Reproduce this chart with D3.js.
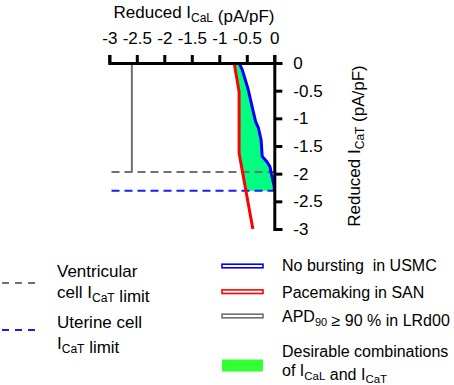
<!DOCTYPE html>
<html>
<head>
<meta charset="utf-8">
<script src="https://cdn.jsdelivr.net/npm/d3@7"></script>
<style>
  body { margin: 0; background: #fff; }
  svg { font-family: Arial, "Liberation Sans", sans-serif; }
  .axis path, .axis line { stroke: #000; stroke-width: 3; }
  .axis text { font-size: 17px; fill: #000; font-family: Arial, "Liberation Sans", sans-serif; }
</style>
</head>
<body>
<div id="chart"></div>
<script>
// axis ticks
const icalTicks = [-3, -2.5, -2, -1.5, -1, -0.5, 0];
const icatTicks = [0, -0.5, -1, -1.5, -2, -2.5, -3];

// No bursting in USMC (blue)
const blueCaL = [-0.64, -0.58, -0.48, -0.41, -0.34, -0.29, -0.24, -0.22, -0.14, -0.08, -0.05, 0, 0];
const blueCaT = [0, -0.13, -0.46, -0.76, -1.06, -1.17, -1.39, -1.69, -1.78, -1.87, -2.02, -2.24, -2.31];

// Pacemaking in SAN (red)
const redCaL = [-0.73, -0.64, -0.64, -0.39];
const redCaT = [0, -0.52, -1.63, -3];

// APD90 >= 90 % in LRd00 (gray)
const grayCaL = [-2.59, -2.59];
const grayCaT = [0, -1.97];

// ICaT limits
const ventricularLimit = -1.97;
const uterineLimit = -2.31;
const limitStart = -2.96;

const width = 454, height = 385;
const svg = d3.select("#chart").append("svg")
    .attr("width", width)
    .attr("height", height);

const x = d3.scaleLinear().domain([-3, 0]).range([109.3, 274.3]);
const y = d3.scaleLinear().domain([0, -3]).range([63, 229]);

const blue = blueCaL.map((v, i) => [v, blueCaT[i]]);
const red = redCaL.map((v, i) => [v, redCaT[i]]);
const gray = grayCaL.map((v, i) => [v, grayCaT[i]]);

const line = d3.line().x(d => x(d[0])).y(d => y(d[1]));

// green region between red and blue, down to the uterine limit
const t = (uterineLimit - redCaT[2]) / (redCaT[3] - redCaT[2]);
const redAtLimit = [redCaL[2] + t * (redCaL[3] - redCaL[2]), uterineLimit];
const region = blue.concat([redAtLimit], red.slice(0, 3).reverse());
svg.append("path")
    .attr("d", line(region) + "Z")
    .attr("fill", "#00ff80")
    .attr("stroke", "none");

// limit lines
svg.append("path")
    .attr("d", line([[limitStart, ventricularLimit], [0, ventricularLimit]]))
    .attr("stroke", "#707070").attr("stroke-width", 2)
    .attr("stroke-dasharray", "8,5").attr("fill", "none");
svg.append("path")
    .attr("d", line([[limitStart, uterineLimit], [0, uterineLimit]]))
    .attr("stroke", "#1a1aff").attr("stroke-width", 2)
    .attr("stroke-dasharray", "8,5").attr("fill", "none");

svg.append("path").datum(gray).attr("d", line)
    .attr("stroke", "#707070").attr("stroke-width", 2).attr("fill", "none");
svg.append("path").datum(red).attr("d", line)
    .attr("stroke", "#ff0000").attr("stroke-width", 3).attr("fill", "none");
svg.append("path").datum(blue).attr("d", line)
    .attr("stroke", "#0000ff").attr("stroke-width", 3).attr("fill", "none");

// axes
svg.append("g")
    .attr("class", "axis")
    .attr("transform", `translate(0,${y(0)})`)
    .call(d3.axisTop(x).tickValues(icalTicks).tickSize(8).tickPadding(11)
        .tickFormat(d => String(d)));

svg.append("g")
    .attr("class", "axis")
    .attr("transform", `translate(${x(0)},0)`)
    .call(d3.axisRight(y).tickValues(icatTicks).tickSize(8).tickPadding(11)
        .tickFormat(d => String(d)));

// text with subscript helper
function sub(text, parts, size, drop) {
    size = size || 12;
    drop = drop || 4;
    parts.forEach(p => {
        if (p.sub) {
            text.append("tspan").attr("font-size", size + "px").attr("dy", drop).text(p.sub);
            text.append("tspan").attr("dy", -drop).text("");
        } else {
            text.append("tspan").text(p.t);
        }
    });
    return text;
}

sub(svg.append("text").attr("x", 194).attr("y", 18)
    .attr("text-anchor", "middle").attr("font-size", "17px"),
    [{t: "Reduced I"}, {sub: "CaL"}, {t: " (pA/pF)"}]);

sub(svg.append("text")
    .attr("transform", "translate(360,146) rotate(-90)")
    .attr("text-anchor", "middle").attr("font-size", "17px"),
    [{t: "Reduced I"}, {sub: "CaT"}, {t: " (pA/pF)"}]);

// legend, left
const leftLegend = [
    {color: "#707070", y: 283, lines: [[{t: "Ventricular"}], [{t: "cell I"}, {sub: "CaT"}, {t: " limit"}]], base: 277},
    {color: "#1a1aff", y: 330, lines: [[{t: "Uterine cell"}], [{t: "I"}, {sub: "CaT"}, {t: " limit"}]], base: 328}
];
leftLegend.forEach(l => {
    svg.append("line").attr("x1", 2).attr("x2", 36).attr("y1", l.y).attr("y2", l.y)
        .attr("stroke", l.color).attr("stroke-width", 2).attr("stroke-dasharray", "7,6");
    l.lines.forEach((parts, i) => {
        sub(svg.append("text").attr("x", 57).attr("y", l.base + i * 21).attr("font-size", "17px"), parts);
    });
});

// legend, right
const rightLegend = [
    {color: "#0000ff", y: 266, parts: [{t: "No bursting\u00a0 in USMC"}], base: 271},
    {color: "#ff0000", y: 291.7, parts: [{t: "Pacemaking in SAN"}], base: 298},
    {color: "#707070", y: 316, parts: [{t: "APD"}, {sub: "90"}, {t: " \u2265 90 % in LRd00"}], base: 322}
];
rightLegend.forEach(l => {
    svg.append("rect").attr("x", 222).attr("y", l.y - 1.8).attr("width", 41).attr("height", 3.6)
        .attr("fill", "#fff").attr("stroke", l.color).attr("stroke-width", 1.6);
    sub(svg.append("text").attr("x", 282).attr("y", l.base).attr("font-size", "16px"), l.parts, 11);
});
svg.append("rect").attr("x", 222).attr("y", 359.5).attr("width", 41).attr("height", 12)
    .attr("fill", "#33ff33");
sub(svg.append("text").attr("x", 282).attr("y", 357).attr("font-size", "16px"),
    [{t: "Desirable combinations"}]);
sub(svg.append("text").attr("x", 282).attr("y", 376).attr("font-size", "16px"),
    [{t: "of I"}, {sub: "CaL"}, {t: " and I"}, {sub: "CaT"}], 11.5, 3.5);
</script>
</body>
</html>
